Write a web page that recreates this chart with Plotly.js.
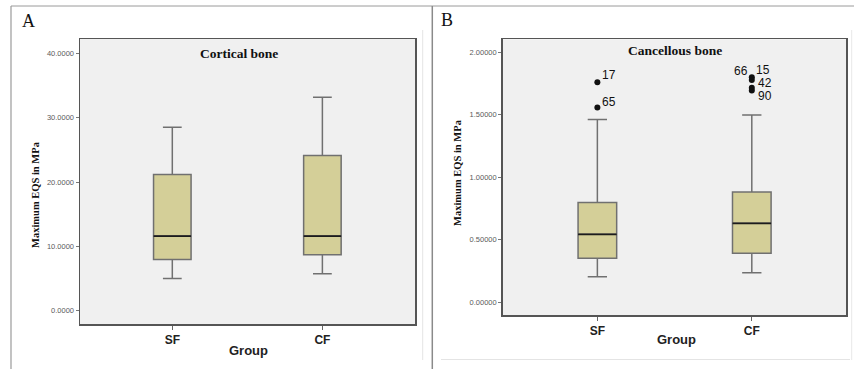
<!DOCTYPE html>
<html>
<head>
<meta charset="utf-8">
<script src="https://cdn.plot.ly/plotly-3.0.1.min.js"></script>
<style>
  html, body { margin: 0; padding: 0; background: #ffffff; }
  #chart { width: 854px; height: 369px; }
</style>
</head>
<body>
<div id="chart"></div>
<script>
// ---- data ----
var categories = ['SF', 'CF'];

// Panel A: cortical bone (Maximum EQS in MPa)
var corticalLower  = [4.98, 5.70];
var corticalQ1     = [7.94, 8.66];
var corticalMedian = [11.57, 11.57];
var corticalQ3     = [21.18, 24.14];
var corticalUpper  = [28.55, 33.20];

// Panel B: cancellous bone (Maximum EQS in MPa)
var cancellousLower  = [0.203, 0.235];
var cancellousQ1     = [0.350, 0.390];
var cancellousMedian = [0.542, 0.630];
var cancellousQ3     = [0.796, 0.881];
var cancellousUpper  = [1.461, 1.498];

// Panel B outliers
var outlierGroup = ['SF', 'SF', 'CF', 'CF', 'CF', 'CF'];
var outlierValue = [1.760, 1.557, 1.800, 1.779, 1.715, 1.693];
var outlierCase  = ['17', '65', '15', '66', '42', '90'];

var yTicksA = [0, 10, 20, 30, 40];
var yTicksB = [0, 0.5, 1.0, 1.5, 2.0];

// ---- style / layout helpers ----
var W = 854, H = 369;
function px(x) { return x / W; }
function py(y) { return 1 - y / H; }

// label placement for outlier case numbers (pixels, style only)
var labelStyle = {
  '17': {anchor: 'left',  dx: 3,  dy: 7},
  '65': {anchor: 'left',  dx: 3,  dy: 6},
  '15': {anchor: 'left',  dx: 2,  dy: 7},
  '66': {anchor: 'right', dx: -2, dy: 9},
  '42': {anchor: 'left',  dx: 4,  dy: 5},
  '90': {anchor: 'left',  dx: 4,  dy: -5}
};

var SANS = 'Liberation Sans, Arial, sans-serif';
var SERIF = 'Liberation Serif, Times New Roman, serif';
var BOXFILL = '#d4cf98';
var BOXLINE = '#707070';
var MEDLINE = '#1c1c1c';

function boxTrace(xa, ya, lo, q1, med, q3, up) {
  return {
    type: 'box', x: categories, xaxis: xa, yaxis: ya,
    lowerfence: lo, q1: q1, median: med, q3: q3, upperfence: up,
    width: 0.25, whiskerwidth: 0.5,
    fillcolor: BOXFILL, line: {color: BOXLINE, width: 1.5},
    boxpoints: false, hoverinfo: 'skip', showlegend: false
  };
}
function medianTrace(xa, ya, med) {
  return {
    type: 'box', x: categories, xaxis: xa, yaxis: ya,
    lowerfence: med, q1: med, median: med, q3: med, upperfence: med,
    width: 0.25, whiskerwidth: 0,
    fillcolor: 'rgba(0,0,0,0)', line: {color: MEDLINE, width: 1.6},
    boxpoints: false, hoverinfo: 'skip', showlegend: false
  };
}

var traces = [
  boxTrace('x', 'y', corticalLower, corticalQ1, corticalMedian, corticalQ3, corticalUpper),
  medianTrace('x', 'y', corticalMedian),
  boxTrace('x2', 'y2', cancellousLower, cancellousQ1, cancellousMedian, cancellousQ3, cancellousUpper),
  medianTrace('x2', 'y2', cancellousMedian),
  {
    type: 'scatter', mode: 'markers', x: outlierGroup, y: outlierValue,
    xaxis: 'x2', yaxis: 'y2',
    marker: {color: '#111111', size: 6},
    hoverinfo: 'skip', showlegend: false
  }
];

function xAxis(domain, range, anchor) {
  return {
    domain: domain, range: range, anchor: anchor, type: 'category',
    showline: true, mirror: true, linecolor: '#555555', linewidth: 1.5,
    ticks: 'outside', ticklen: 4, tickcolor: '#666666', tickwidth: 1,
    tickfont: {family: SANS, size: 12, color: '#222222', weight: 'bold'},
    showgrid: false, zeroline: false, fixedrange: true
  };
}
function yAxis(domain, range, anchor, tickvals, fmt) {
  return {
    domain: domain, range: range, anchor: anchor,
    tickvals: tickvals, tickformat: fmt,
    showline: true, mirror: true, linecolor: '#555555', linewidth: 1.5,
    ticks: 'outside', ticklen: 3, tickcolor: '#777777', tickwidth: 1,
    tickfont: {family: SANS, size: 7.5, color: '#5a5a5a'},
    showgrid: false, zeroline: false, fixedrange: true
  };
}

function paperText(x, y, text, font, angle) {
  return {xref: 'paper', yref: 'paper', x: px(x), y: py(y), text: text,
    showarrow: false, xanchor: 'center', yanchor: 'middle',
    textangle: angle || 0, font: font};
}

var annotations = [
  paperText(28, 21, 'A', {family: SERIF, size: 18, color: '#111'}),
  paperText(447, 20, 'B', {family: SERIF, size: 18, color: '#111'}),
  paperText(239, 53, 'Cortical bone', {family: SERIF, size: 13.5, color: '#111', weight: 'bold'}),
  paperText(675, 51, 'Cancellous bone', {family: SERIF, size: 13.5, color: '#111', weight: 'bold'}),
  paperText(35, 195, 'Maximum EQS in MPa', {family: SERIF, size: 10.5, color: '#111', weight: 'bold'}, -90),
  paperText(457, 173, 'Maximum EQS in MPa', {family: SERIF, size: 10.5, color: '#111', weight: 'bold'}, -90),
  paperText(248, 350, 'Group', {family: SANS, size: 13, color: '#222', weight: 'bold'}),
  paperText(676, 339, 'Group', {family: SANS, size: 13, color: '#222', weight: 'bold'})
];

outlierCase.forEach(function (c, i) {
  var s = labelStyle[c];
  annotations.push({
    xref: 'x2', yref: 'y2', x: outlierGroup[i], y: outlierValue[i],
    text: c, showarrow: false, xanchor: s.anchor, yanchor: 'middle',
    xshift: s.dx, yshift: s.dy,
    font: {family: SANS, size: 12, color: '#111'}
  });
});

function line(x0, y0, x1, y1, color, w) {
  return {type: 'line', xref: 'paper', yref: 'paper',
    x0: px(x0), y0: py(y0), x1: px(x1), y1: py(y1),
    line: {color: color, width: w}};
}

var shapes = [
  line(11, 6, 854, 6, '#9a9a9a', 1),
  line(11, 6, 11, 369, '#9a9a9a', 1.2),
  line(432.3, 6, 432.3, 369, '#8a8a8a', 1.5),
  line(422.7, 30, 422.7, 360, '#e4e4e4', 1),
  line(441, 359.5, 850, 359.5, '#e4e4e4', 1),
  line(851.7, 30, 851.7, 360, '#e8e8e8', 1)
];

var layout = {
  width: W, height: H,
  margin: {l: 0, r: 0, t: 0, b: 0},
  paper_bgcolor: '#ffffff',
  plot_bgcolor: '#f0f0f0',
  showlegend: false,
  boxmode: 'overlay',
  xaxis: xAxis([px(80), px(415)], [-0.615, 1.617], 'y'),
  yaxis: yAxis([1 - 324 / H, 1 - 39 / H], [-2.13, 42.29], 'x', yTicksA, '.4f'),
  xaxis2: xAxis([px(502.7), px(846)], [-0.613, 1.61], 'y2'),
  yaxis2: yAxis([1 - 315 / H, 1 - 39.3 / H], [-0.104, 2.104], 'x2', yTicksB, '.5f'),
  annotations: annotations,
  shapes: shapes
};

Plotly.newPlot('chart', traces, layout, {displayModeBar: false, staticPlot: true});
</script>
</body>
</html>
